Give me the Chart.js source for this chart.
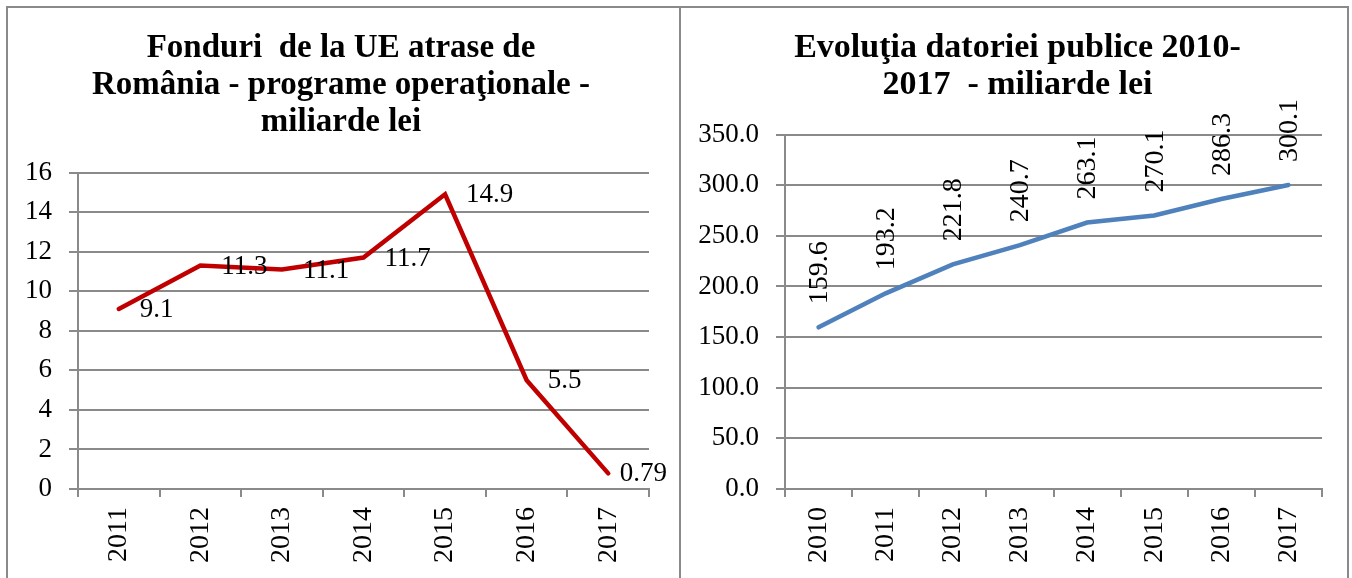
<!DOCTYPE html>
<html>
<head>
<meta charset="utf-8">
<script src="https://cdn.jsdelivr.net/npm/chart.js@4.4.1/dist/chart.umd.min.js"></script>
<style>
  body { margin: 0; background: #fff; width: 1352px; height: 578px; overflow: hidden; position: relative; }
  .frame { position: absolute; top: 6px; height: 600px; border: 2px solid #8a8a8a; box-sizing: border-box; }
  .box { position: absolute; top: 8px; height: 570px; }
</style>
</head>
<body>
<div class="frame" style="left:6px; width:675px;"></div>
<div class="frame" style="left:679px; width:670px;"></div>
<div class="box" style="left:8px; width:670px;"><canvas id="fundChart"></canvas></div>
<div class="box" style="left:681px; width:665px;"><canvas id="debtChart"></canvas></div>
<script>
// left chart: EU funds, billions lei
const fundYears = ['2011', '2012', '2013', '2014', '2015', '2016', '2017'];
const fundValues = [9.1, 11.3, 11.1, 11.7, 14.9, 5.5, 0.79];
const fundTicks = [0, 2, 4, 6, 8, 10, 12, 14, 16];
const fundTitle = ['Fonduri  de la UE atrase de', 'România - programe operaţionale -', 'miliarde lei'];

// right chart: public debt, billions lei
const debtYears = ['2010', '2011', '2012', '2013', '2014', '2015', '2016', '2017'];
const debtValues = [159.6, 193.2, 221.8, 240.7, 263.1, 270.1, 286.3, 300.1];
const debtTicks = [0, 50, 100, 150, 200, 250, 300, 350];
const debtTitle = ['Evoluţia datoriei publice 2010-', '2017  - miliarde lei'];

const SERIF = "'Liberation Serif', 'Times New Roman', serif";
const GRID = '#8a8a8a';

// value labels next to the points (no datalabels plugin available)
const valueLabels = {
    id: 'valueLabels',
    afterDatasetsDraw(chart, args, opts) {
        const ctx = chart.ctx;
        const meta = chart.getDatasetMeta(0);
        const values = chart.data.datasets[0].data;
        ctx.save();
        ctx.font = opts.font;
        ctx.fillStyle = '#000';
        ctx.textBaseline = 'middle';
        ctx.textAlign = 'left';
        meta.data.forEach((pt, i) => {
            const text = opts.format(values[i]);
            if (opts.vertical) {
                ctx.save();
                ctx.translate(pt.x + 1, pt.y - 23);
                ctx.rotate(-Math.PI / 2);
                ctx.fillText(text, 0, 0);
                ctx.restore();
            } else {
                const w = ctx.measureText(text).width;
                const x = Math.min(pt.x + 21, chart.chartArea.right + 18 - w);
                ctx.fillText(text, x, pt.y + 1);
            }
        });
        ctx.restore();
    }
};

function makeChart(id, cfg) {
    return new Chart(document.getElementById(id), {
        type: 'line',
        data: {
            labels: cfg.labels,
            datasets: [{
                data: cfg.values,
                borderColor: cfg.color,
                borderWidth: 4.5,
                borderCapStyle: 'round',
                pointRadius: 0,
                tension: 0,
                clip: false
            }]
        },
        options: {
            responsive: true,
            maintainAspectRatio: false,
            animation: false,
            layout: { padding: { left: cfg.padLeft, right: cfg.padRight, top: 0, bottom: 0 } },
            plugins: {
                legend: { display: false },
                tooltip: { enabled: false },
                title: {
                    display: true,
                    text: cfg.title,
                    color: '#000',
                    font: { family: SERIF, weight: 'bold', size: cfg.titleSize, lineHeight: 37 / cfg.titleSize },
                    padding: { top: 21.5, bottom: cfg.titleGap }
                },
                valueLabels: cfg.valueLabels
            },
            scales: {
                x: {
                    offset: true,
                    grid: { drawOnChartArea: false, offset: true, tickLength: 8, color: GRID, lineWidth: 2 },
                    border: { color: GRID, width: 2 },
                    ticks: { minRotation: 90, maxRotation: 90, autoSkip: false, padding: 10, color: '#000',
                             font: { family: SERIF, size: 28 } },
                    afterFit(s) { s.height = 89; }
                },
                y: {
                    min: cfg.ticks[0],
                    max: cfg.ticks[cfg.ticks.length - 1],
                    grid: { color: GRID, lineWidth: 2, tickLength: 9 },
                    border: { color: GRID, width: 2 },
                    afterBuildTicks(s) { s.ticks = cfg.ticks.map(v => ({ value: v })); },
                    ticks: { padding: 17, color: '#000', font: { family: SERIF, size: 27 },
                             callback: cfg.tickFormat },
                    afterFit(s) { s.width = cfg.yWidth; }
                },
                // empty spacer on the right so the title centres like the original
                spacer: {
                    type: 'linear',
                    position: 'right',
                    grid: { display: false },
                    border: { display: false },
                    ticks: { display: false },
                    afterFit(s) { s.width = cfg.spacer; }
                }
            }
        },
        plugins: [valueLabels]
    });
}

makeChart('fundChart', {
    labels: fundYears, values: fundValues, ticks: fundTicks, title: fundTitle, titleSize: 33,
    color: '#C00000', padLeft: 14, yWidth: 56, padRight: 18, spacer: 11, titleGap: 32,
    tickFormat: v => String(v),
    valueLabels: { font: '27px ' + SERIF, vertical: false, format: v => String(v) }
});

makeChart('debtChart', {
    labels: debtYears, values: debtValues, ticks: debtTicks, title: debtTitle, titleSize: 34,
    color: '#4F81BD', padLeft: 11, yWidth: 93, padRight: 3, spacer: 21, titleGap: 31,
    tickFormat: v => v.toFixed(1),
    valueLabels: { font: '28px ' + SERIF, vertical: true, format: v => v.toFixed(1) }
});
</script>
</body>
</html>
